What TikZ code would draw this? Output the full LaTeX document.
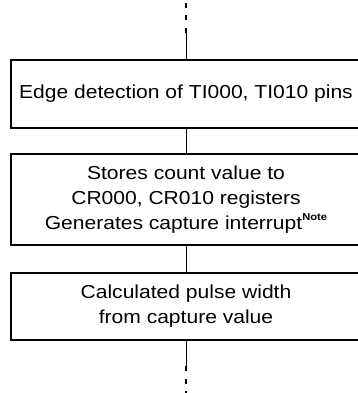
\documentclass[tikz,border=0pt]{standalone}
\usepackage{fontspec}
\setmainfont{Liberation Sans}[FakeStretch=1.12]
\begin{document}
\begin{tikzpicture}[x=1pt,y=1pt,
  box/.style={draw=black,line width=1.6pt,minimum width=350pt,inner sep=0pt,
    align=center,font=\fontsize{18.8}{25}\selectfont},
  conn/.style={line width=0.8pt},
  dots/.style={line width=2pt,dash pattern=on 5pt off 7.5pt}]
\useasboundingbox (0,0) rectangle (358,-393);
\clip (0,0) rectangle (358,-393);
\node[box,minimum height=68pt] (b1) at (186,-94) {Edge detection of TI000, TI010 pins};
\node[box,minimum height=91pt] (b2) at (186,-199.5) {Stores count value to\\CR000, CR010 registers\\Generates capture interrupt\raisebox{9pt}{\fontsize{10}{10}\selectfont\bfseries Note}};
\node[box,minimum height=67pt] (b3) at (186,-306.5) {Calculated pulse width\\from capture value};
\coordinate (t0) at (186,-2);
\coordinate (t1) at (186,-33);
\coordinate (u1) at (186,-366);
\coordinate (u0) at (186,-395);
\draw[dots] (t1) -- (t0);
\draw[conn] (t1) -- (b1.north);
\draw[conn] (b1.south) -- (b2.north);
\draw[conn] (b2.south) -- (b3.north);
\draw[conn] (b3.south) -- (u1);
\draw[dots] (u1) -- (u0);
\end{tikzpicture}
\end{document}
